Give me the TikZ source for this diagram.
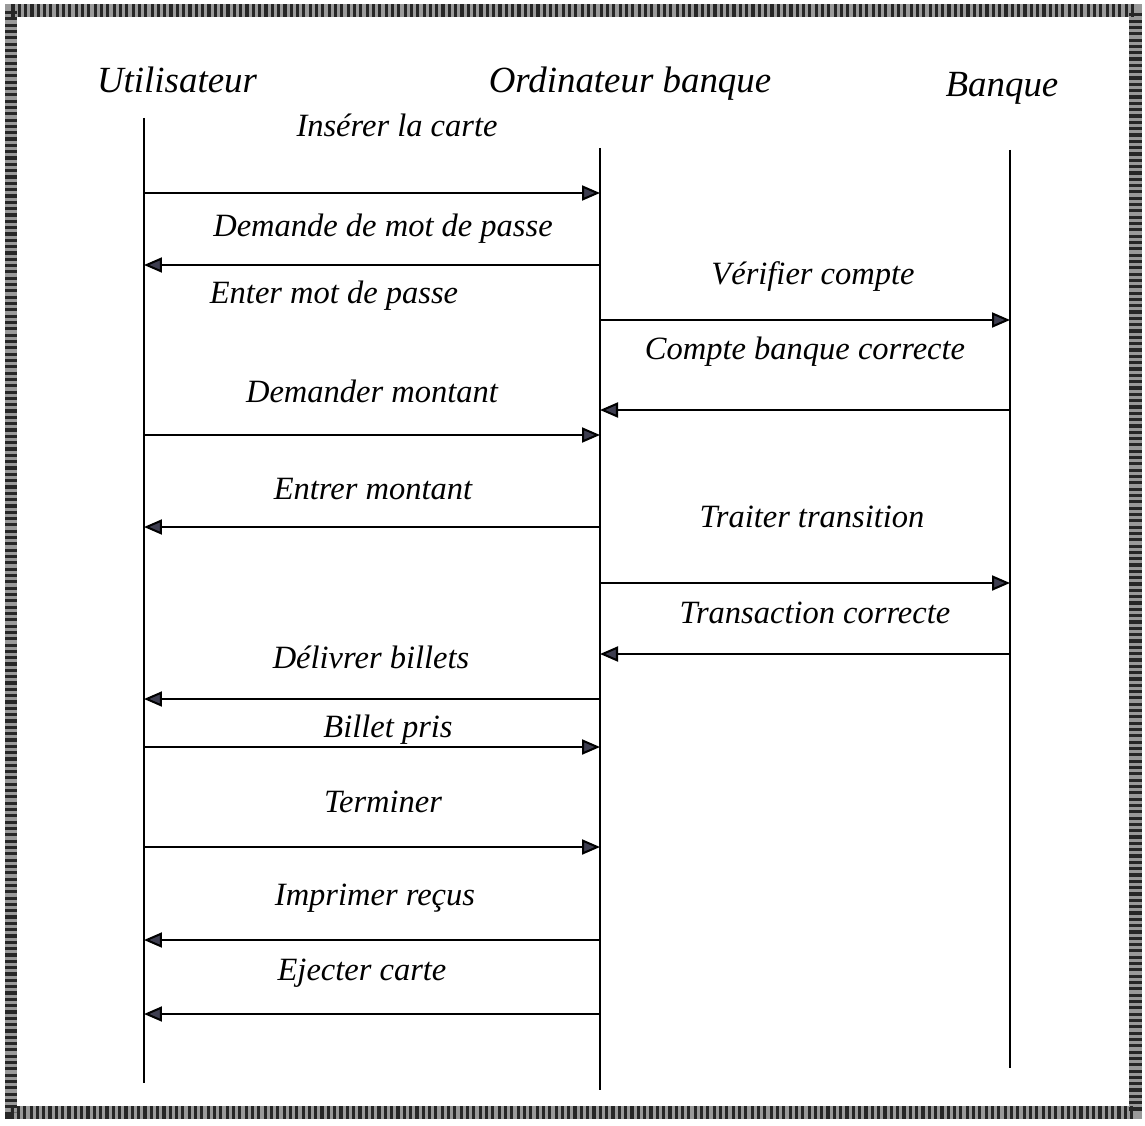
\documentclass[tikz,border=0pt]{standalone}
\usepackage{fontspec}
\setmainfont{Liberation Serif}
\usepackage{tikz}
\usetikzlibrary{arrows.meta}

\definecolor{tipgray}{RGB}{62,62,80}

\begin{document}
\begin{tikzpicture}[x=0.02cm, y=-0.02cm,
	head/.style={
		% The text
		font=\fontsize{21}{24}\selectfont\itshape,
		inner sep=0pt},
	lbl/.style={
		font=\fontsize{18.5}{21}\selectfont\itshape,
		inner sep=0pt},
	life/.style={line width=1.15pt, draw=black},
	msg/.style={line width=1.15pt, draw=black,
		-{Triangle[length=0.36cm, width=0.3cm, fill=tipgray]}}]
    \useasboundingbox (0,0) rectangle (1145,1125);
    % frame
    \draw [line width=0.26cm, draw=black!40] (11,11) rectangle (1135,1112);
    \draw [line width=0.26cm, draw=black!85, dash pattern=on 1.8pt off 1.8pt] (11,11) rectangle (1135,1112);
    % heads and lifelines
    \node [head] (user) at (177,80) {Utilisateur};
    \node [head] (atm) at (630,84) {Ordinateur banque};
    \node [head] (bank) at (1002,88) {Banque};
    \coordinate (U) at (144,118);
    \coordinate (Uend) at (144,1083);
    \coordinate (O) at (600,148);
    \coordinate (Oend) at (600,1090);
    \coordinate (B) at (1010,150);
    \coordinate (Bend) at (1010,1068);
    \draw [life] (U) -- (Uend);
    \draw [life] (O) -- (Oend);
    \draw [life] (B) -- (Bend);
    % messages user <-> atm
    \node [lbl] (m1) at (397,125) {Insérer la carte};
    \draw [msg] (U |- 0,193) -- (O |- 0,193);
    \node [lbl] (m2) at (383,229) {Demande de mot de passe};
    \draw [msg] (O |- 0,265) -- (U |- 0,265);
    \node [lbl] (m3) at (334,296) {Enter mot de passe};
    \node [lbl] (m6) at (372,391) {Demander montant};
    \draw [msg] (U |- 0,435) -- (O |- 0,435);
    \node [lbl] (m7) at (373,489) {Entrer montant};
    \draw [msg] (O |- 0,527) -- (U |- 0,527);
    \node [lbl] (m10) at (371,657) {Délivrer billets};
    \draw [msg] (O |- 0,699) -- (U |- 0,699);
    \node [lbl] (m11) at (388,730) {Billet pris};
    \draw [msg] (U |- 0,747) -- (O |- 0,747);
    \node [lbl] (m12) at (383,802) {Terminer};
    \draw [msg] (U |- 0,847) -- (O |- 0,847);
    \node [lbl] (m13) at (375,898) {Imprimer reçus};
    \draw [msg] (O |- 0,940) -- (U |- 0,940);
    \node [lbl] (m14) at (362,973) {Ejecter carte};
    \draw [msg] (O |- 0,1014) -- (U |- 0,1014);
    % messages atm <-> bank
    \node [lbl] (m4) at (813,277) {Vérifier compte};
    \draw [msg] (O |- 0,320) -- (B |- 0,320);
    \node [lbl] (m5) at (805,352) {Compte banque correcte};
    \draw [msg] (B |- 0,410) -- (O |- 0,410);
    \node [lbl] (m8) at (812,517) {Traiter transition};
    \draw [msg] (O |- 0,583) -- (B |- 0,583);
    \node [lbl] (m9) at (815,613) {Transaction correcte};
    \draw [msg] (B |- 0,654) -- (O |- 0,654);
\end{tikzpicture}
\end{document}
